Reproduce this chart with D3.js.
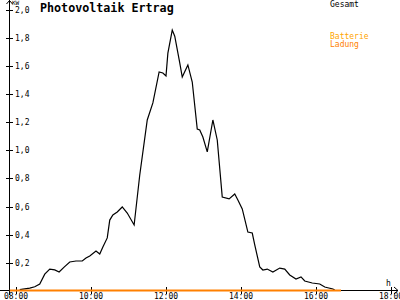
<!DOCTYPE html>
<html>
<head>
<meta charset="UTF-8">
<title>Photovoltaik Ertrag</title>
<script src="https://cdn.jsdelivr.net/npm/d3@7"></script>
<style>
  body { margin: 0; background: #fff; }
  text { font-family: "DejaVu Sans Mono", monospace; }
</style>
</head>
<body>
<script>
  // Gesamt (kW) over the day
  const times = ["08:06", "08:22", "08:30", "08:38", "08:46", "08:54", "09:02", "09:09", "09:17", "09:26",
    "09:36", "09:46", "09:52", "09:58", "10:08", "10:14", "10:19", "10:26", "10:30", "10:35",
    "10:42", "10:50", "10:58", "11:09", "11:18", "11:30", "11:39", "11:49", "11:55", "12:00",
    "12:03", "12:10", "12:14", "12:22", "12:26", "12:35", "12:42", "12:50", "12:54", "12:59",
    "13:06", "13:15", "13:22", "13:30", "13:41", "13:50", "13:55", "14:02", "14:11", "14:18",
    "14:22", "14:30", "14:35", "14:42", "14:51", "15:02", "15:10", "15:18", "15:28", "15:36",
    "15:42", "15:54", "16:06", "16:14", "16:27", "16:30"];
  const gesamt = [0.01, 0.02, 0.03, 0.05, 0.12, 0.156, 0.15, 0.135, 0.17, 0.206,
    0.213, 0.213, 0.234, 0.249, 0.284, 0.263, 0.313, 0.377, 0.504, 0.54,
    0.561, 0.597, 0.554, 0.469, 0.824, 1.215, 1.336, 1.556, 1.549, 1.528,
    1.69, 1.854, 1.81, 1.62, 1.52, 1.606, 1.485, 1.151, 1.144, 1.094,
    0.988, 1.215, 1.073, 0.668, 0.654, 0.689, 0.647, 0.583, 0.419, 0.412,
    0.327, 0.171, 0.149, 0.156, 0.135, 0.163, 0.156, 0.114, 0.085, 0.1,
    0.071, 0.057, 0.05, 0.028, 0.014, 0.007];

  // Batterie Ladung stays at zero
  const battTimes = ["07:50", "16:40"];
  const battValues = [0, 0];

  const yTicks = [0.2, 0.4, 0.6, 0.8, 1.0, 1.2, 1.4, 1.6, 1.8, 2.0];
  const xTicks = [8, 10, 12, 14, 16, 18];

  const w = 400, h = 300;

  function hours(s) {
    const p = s.split(":");
    return +p[0] + p[1] / 60;
  }

  const x = d3.scaleLinear().domain([8, 18]).range([16, 391]);
  const y = d3.scaleLinear().domain([0, 2]).range([291, 9.5]);

  const svg = d3.select("body").append("svg")
    .attr("width", w)
    .attr("height", h);

  // title + legend
  svg.append("text")
    .attr("x", 40).attr("y", 12)
    .style("font-size", "11.7px").style("font-weight", "bold")
    .text("Photovoltaik Ertrag");

  svg.append("text").attr("x", 330).attr("y", 7)
    .style("font-size", "8px").attr("fill", "#000").text("Gesamt");
  svg.append("text").attr("x", 330).attr("y", 39)
    .style("font-size", "8px").attr("fill", "#ffa500").text("Batterie");
  svg.append("text").attr("x", 330).attr("y", 47)
    .style("font-size", "8px").attr("fill", "#ff8000").text("Ladung");

  // axes
  const ax = svg.append("g").attr("stroke", "#000").attr("shape-rendering", "crispEdges");
  ax.append("line").attr("x1", 9.5).attr("x2", 9.5).attr("y1", 0).attr("y2", 295);
  ax.append("line").attr("x1", 0).attr("x2", 398).attr("y1", y(0) - 0.5).attr("y2", y(0) - 0.5);

  // arrows
  svg.append("path").attr("fill", "none").attr("stroke", "#000")
    .attr("d", "M6.5,4 L9.5,0.5 L12.5,4");
  svg.append("path").attr("fill", "none").attr("stroke", "#000")
    .attr("d", "M394,287 L398,290.5 L394,294");

  svg.append("text").attr("x", 12).attr("y", 5)
    .style("font-size", "6px").text("KW");
  svg.append("text").attr("x", 386).attr("y", 286)
    .style("font-size", "8px").text("h");

  yTicks.forEach(v => {
    ax.append("line").attr("x1", 6).attr("x2", 13)
      .attr("y1", Math.round(y(v)) + 0.5).attr("y2", Math.round(y(v)) + 0.5);
    svg.append("text").attr("x", 15).attr("y", y(v) + 3)
      .style("font-size", "8px")
      .text(d3.format(".1f")(v).replace(".", ","));
  });

  xTicks.forEach(v => {
    ax.append("line").attr("y1", 287).attr("y2", 294)
      .attr("x1", Math.round(x(v)) + 0.5).attr("x2", Math.round(x(v)) + 0.5);
    svg.append("text").attr("x", x(v)).attr("y", 299)
      .attr("text-anchor", "middle")
      .style("font-size", "8px")
      .text(d3.format("02d")(v) + ":00");
  });

  // series
  const line = d3.line()
    .x((d, i) => x(hours(d)))
    .y((d, i) => y(gesamt[i]));

  svg.append("path")
    .attr("d", line(times))
    .attr("fill", "none")
    .attr("stroke", "#000")
    .attr("stroke-width", 1.2);

  const battLine = d3.line()
    .x((d, i) => x(hours(d)))
    .y((d, i) => y(battValues[i]) - 0.5);

  svg.append("path")
    .attr("d", battLine(battTimes))
    .attr("fill", "none")
    .attr("stroke", "#ff8000")
    .attr("stroke-width", 2);
</script>
</body>
</html>
